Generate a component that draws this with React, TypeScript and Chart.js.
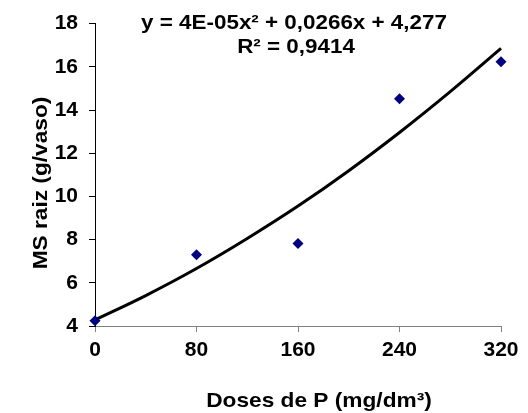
import React, { useEffect, useRef } from "react";
import { Chart, registerables } from "chart.js";

Chart.register(...registerables);

const doses = [0, 80, 160, 240, 320];
const msRaiz = [4.24, 7.3, 7.82, 14.52, 16.23];
const trendX = [0, 40, 80, 120, 160, 200, 240, 280, 320];
const trendY = [4.28, 5.41, 6.66, 8.05, 9.55, 11.19, 12.96, 14.85, 16.85];
const equationLines = ["y = 4E-05x² + 0,0266x + 4,277", "R² = 0,9414"];
const xTitle = "Doses de P (mg/dm³)";
const yTitle = "MS raiz (g/vaso)";

const FONT = "Liberation Sans, Arial, sans-serif";

export default function App() {
  const ref = useRef<HTMLCanvasElement>(null);
  useEffect(() => {
    document.body.style.margin = "0";
    const ctx = ref.current!;
    const drawStretched = (c: any, text: string, x: number, y: number, sx: number) => {
      c.save();
      c.translate(x, y);
      c.scale(sx, 1);
      c.fillText(text, 0, 0);
      c.restore();
    };
    const textPlugin = {
      id: "texts",
      afterDraw(chart: any) {
        const c = chart.ctx;
        c.save();
        c.fillStyle = "#000";
        c.font = `bold 20px ${FONT}`;
        c.textAlign = "center";
        c.textBaseline = "middle";
        drawStretched(c, equationLines[0], 294, 23, 1.12);
        drawStretched(c, equationLines[1], 296, 47, 1.12);
        c.font = `bold 21px ${FONT}`;
        drawStretched(c, xTitle, 319, 401, 1.08);
        c.translate(41, 183);
        c.rotate(-Math.PI / 2);
        drawStretched(c, yTitle, 0, 0, 1.08);
        c.restore();
      },
    };
    const chart = new Chart(ctx, {
      type: "scatter",
      data: {
        datasets: [
          {
            data: trendX.map((x, i) => ({ x, y: trendY[i] })),
            showLine: true,
            borderColor: "#000",
            borderWidth: 3,
            pointRadius: 0,
            cubicInterpolationMode: "monotone",
            clip: false,
            order: 2,
          },
          {
            data: doses.map((x, i) => ({ x, y: msRaiz[i] })),
            pointStyle: "rectRot",
            pointRadius: 5.5,
            backgroundColor: "#000080",
            borderColor: "#000080",
            borderWidth: 0,
            clip: false,
            order: 1,
          },
        ],
      },
      options: {
        responsive: false,
        animation: false,
        layout: { padding: { top: 21, right: 27, left: 0, bottom: 0 } },
        plugins: { legend: { display: false }, tooltip: { enabled: false } },
        scales: {
          x: {
            type: "linear",
            min: 0,
            max: 320,
            ticks: {
              stepSize: 80,
              color: "#000",
              font: { family: FONT, size: 21, weight: "bold" },
              padding: 6,
            },
            grid: { drawOnChartArea: false, drawTicks: true, tickLength: 6, color: "#808080" },
            border: { color: "#808080", width: 1 },
            afterFit(scale: any) {
              scale.height = 87;
            },
          },
          y: {
            min: 4,
            max: 18,
            ticks: {
              stepSize: 2,
              color: "#000",
              font: { family: FONT, size: 21, weight: "bold" },
              padding: 11,
            },
            grid: { drawOnChartArea: false, drawTicks: true, tickLength: 6, color: "#000" },
            border: { color: "#000", width: 1 },
            afterFit(scale: any) {
              scale.width = 95;
            },
          },
        },
      },
      plugins: [textPlugin],
    } as any);
    return () => chart.destroy();
  }, []);
  return <canvas ref={ref} width={528} height={413} style={{ display: "block" }} />;
}
